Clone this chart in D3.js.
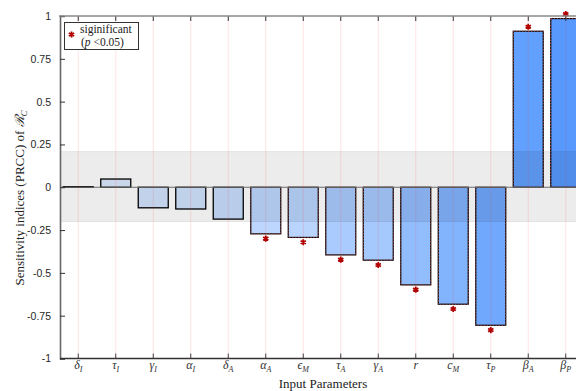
<!DOCTYPE html>
<html><head><meta charset="utf-8">
<script src="https://cdn.jsdelivr.net/npm/d3@7"></script>
<style>body{margin:0;background:#fff;}svg{display:block;} .serif{font-family:'Liberation Serif','DejaVu Serif',serif;}</style>
</head><body><div id="chart"></div>
<script>
const paramSymbols = ["δ","τ","γ","α","δ","α","ϵ","τ","γ","r","c","τ","β","β"];
const paramSubs    = ["I","I","I","I","A","A","M","A","A","","M","P","A","P"];
const prccValues   = [0.003,0.048,-0.12,-0.127,-0.186,-0.272,-0.293,-0.395,-0.426,-0.57,-0.683,-0.806,0.911,0.985];
const significant  = [false,false,false,false,false,true,true,true,true,true,true,true,true,true];
const yTicks = [1,0.75,0.5,0.25,0,-0.25,-0.5,-0.75,-1];
const yTickLabels = ["1","0.75","0.5","0.25","0","-0.25","-0.5","-0.75","-1"];
const bandLimits = [-0.2, 0.208];

const W=576,H=391;
const SERIF="'Liberation Serif','DejaVu Serif',serif";
const svg=d3.select("#chart").append("svg").attr("width",W).attr("height",H);
const ids = paramSymbols.map((s,i)=>i);
const x=d3.scaleBand().domain(ids).range([59.5,584.5]).paddingInner(0.2).paddingOuter(0.1);
const y=d3.scaleLinear().domain([-1,1]).range([358.5,16]);
const color=d3.scaleLinear().domain([0,1]).range(["#e2edfd","#5598fd"]);
const cx=i=>x(i)+x.bandwidth()/2;

// bars
const bars=svg.append("g");
ids.forEach(i=>{
  const v=prccValues[i];
  const y0=y(Math.max(0,v)), y1=y(Math.min(0,v));
  bars.append("rect").attr("x",x(i)).attr("y",y0).attr("width",x.bandwidth()).attr("height",Math.max(0.01,y1-y0))
    .attr("fill",color(Math.abs(v))).attr("stroke","#000").attr("stroke-width",significant[i]?1.2:1.3);
  if(significant[i]){
    bars.append("rect").attr("x",x(i)).attr("y",y0).attr("width",x.bandwidth()).attr("height",y1-y0)
      .attr("fill","none").attr("stroke","#c05050").attr("stroke-width",1).attr("stroke-dasharray","1,2");
  }
});

// zero line
svg.append("line").attr("x1",60).attr("x2",W).attr("y1",y(0)).attr("y2",y(0)).attr("stroke","#777").attr("stroke-width",1);

// grey band
svg.append("rect").attr("x",60).attr("width",W-60).attr("y",y(bandLimits[1])).attr("height",y(bandLimits[0])-y(bandLimits[1]))
  .attr("fill","#000").attr("fill-opacity",0.075);
[bandLimits[0],bandLimits[1]].forEach(b=>svg.append("line").attr("x1",60).attr("x2",W).attr("y1",y(b)).attr("y2",y(b)).attr("stroke","#000").attr("stroke-opacity",0.08));

// vertical pink gridlines
ids.forEach(i=>svg.append("line").attr("x1",cx(i)).attr("x2",cx(i)).attr("y1",y(1)).attr("y2",y(-1))
  .attr("stroke","#ff3030").attr("stroke-opacity",0.13).attr("stroke-width",1));

// significance stars
const star=d3.symbol().type(d3.symbolAsterisk).size(26);
ids.filter(i=>significant[i]).forEach(i=>{
  const v=prccValues[i];
  const sv=v+(v>0?0.026:-0.028);
  svg.append("path").attr("d",star).attr("transform",`translate(${cx(i)},${y(sv)})`)
    .attr("fill","none").attr("stroke","#b00000").attr("stroke-width",1.8);
});

// axes
const yAxis=d3.axisLeft(y).tickValues(yTicks).tickFormat((d,i)=>yTickLabels[i]).tickSize(-5).tickPadding(9);
const gy=svg.append("g").attr("transform","translate(60,0)").call(yAxis);
gy.select(".domain").attr("stroke","#666").attr("stroke-width",1.6);
gy.selectAll(".tick line").attr("stroke","#333");
gy.selectAll("text").attr("font-family","'Liberation Sans', Arial, sans-serif").attr("font-size",10.5).attr("fill","#262626");

const xAxis=d3.axisBottom(x).tickSize(-5).tickPadding(7).tickFormat("");
const gx=svg.append("g").attr("transform",`translate(0,${y(-1)})`).call(xAxis);
gx.select(".domain").remove();
gx.selectAll(".tick line").attr("stroke","#444");
svg.append("line").attr("x1",60).attr("x2",W).attr("y1",y(-1)).attr("y2",y(-1)).attr("stroke","#333").attr("stroke-width",1.5);

const gt=svg.append("g").attr("transform",`translate(0,${y(1)})`).call(d3.axisTop(x).tickSize(-5).tickFormat(""));
gt.select(".domain").remove();
gt.selectAll(".tick line").attr("stroke","#333");
svg.append("line").attr("x1",59).attr("x2",W).attr("y1",y(1)).attr("y2",y(1)).attr("stroke","#888").attr("stroke-width",1.5);

// x tick labels
ids.forEach(i=>{
  const t=svg.append("text").attr("x",cx(i)).attr("y",369).attr("text-anchor","middle")
    .attr("font-family",SERIF).attr("font-style","italic").attr("font-size",12).attr("fill","#333");
  t.append("tspan").text(paramSymbols[i]);
  if(paramSubs[i]) t.append("tspan").attr("font-size",8).attr("dy",2.5).text(paramSubs[i]);
});

// axis labels
svg.append("text").attr("x",323).attr("y",388).attr("text-anchor","middle")
  .attr("font-family",SERIF).attr("font-size",13).attr("fill","#222").text("Input Parameters");
const yl=svg.append("text").attr("transform","translate(24,198) rotate(-90)").attr("text-anchor","middle")
  .attr("font-family",SERIF).attr("font-size",13).attr("fill","#222");
yl.append("tspan").text("Sensitivity indices (PRCC) of ");
yl.append("tspan").attr("font-style","italic").text("ℛ");
yl.append("tspan").attr("font-style","italic").attr("font-size",9).attr("dy",3).text("C");

// legend
const lg=svg.append("g");
lg.append("rect").attr("x",64.5).attr("y",22.5).attr("width",74).attr("height",27).attr("fill","#fff").attr("stroke","#333").attr("stroke-width",1);
lg.append("path").attr("d",star).attr("transform","translate(71.5,34.5)").attr("fill","none").attr("stroke","#b00000").attr("stroke-width",1.8);
lg.append("text").attr("x",80).attr("y",33).attr("font-family",SERIF).attr("font-size",11.5).attr("fill","#222").text("siginificant");
const l2=lg.append("text").attr("x",81).attr("y",46).attr("font-family",SERIF).attr("font-size",11.5).attr("fill","#222");
l2.append("tspan").text("(");
l2.append("tspan").attr("font-style","italic").text("p");
l2.append("tspan").text(" <0.05)");
</script></body></html>
